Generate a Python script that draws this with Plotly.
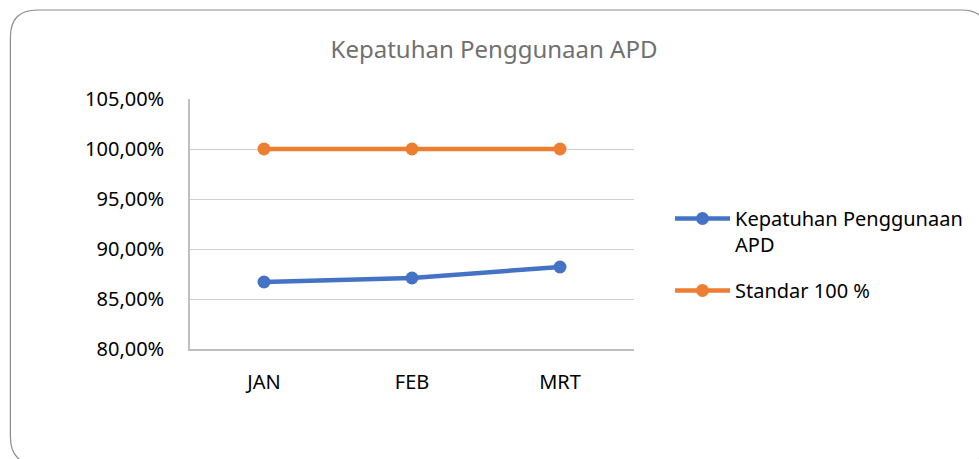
import plotly.graph_objects as go

months = ["JAN", "FEB", "MRT"]
kepatuhan = [0.867, 0.871, 0.882]
standar = [1.00, 1.00, 1.00]
y_ticks = [0.80, 0.85, 0.90, 0.95, 1.00, 1.05]
y_tick_labels = ["80,00%", "85,00%", "90,00%", "95,00%", "100,00%", "105,00%"]

W, H = 979, 459
L, R, T, B = 190, 344, 99, 110
pw, ph = W - L - R, H - T - B


def px(x):
    return (x - L) / pw


def py(y):
    return (H - B - y) / ph


fig = go.Figure()
fig.add_trace(go.Scatter(
    x=months, y=kepatuhan, mode="lines+markers",
    name="Kepatuhan Penggunaan<br>APD", legendgroup="a",
    line=dict(color="#4472C4", width=4.5),
    marker=dict(color="#4472C4", size=13),
))
fig.add_trace(go.Scatter(
    x=months, y=standar, mode="lines+markers",
    name="Standar 100 %", legendgroup="b",
    line=dict(color="#ED7D31", width=4.5),
    marker=dict(color="#ED7D31", size=13),
))

# rounded chart frame, runs off the right and bottom edges
x0, y0, x1, y1, r = 10, 10, 990, 464, 27
path = (
    f"M {px(x0 + r)} {py(y0)} L {px(x1 - r)} {py(y0)} "
    f"Q {px(x1)} {py(y0)} {px(x1)} {py(y0 + r)} L {px(x1)} {py(y1 - r)} "
    f"Q {px(x1)} {py(y1)} {px(x1 - r)} {py(y1)} L {px(x0 + r)} {py(y1)} "
    f"Q {px(x0)} {py(y1)} {px(x0)} {py(y1 - r)} L {px(x0)} {py(y0 + r)} "
    f"Q {px(x0)} {py(y0)} {px(x0 + r)} {py(y0)} Z"
)
fig.add_shape(type="path", path=path, xref="paper", yref="paper",
              line=dict(color="#8c8c8c", width=1.2), layer="below")

fig.update_layout(
    width=W, height=H,
    margin=dict(l=L, r=R, t=T, b=B),
    paper_bgcolor="white", plot_bgcolor="white",
    font=dict(family="Noto Sans", size=20, color="#000000"),
    title=dict(text="Kepatuhan Penggunaan APD", x=494 / W, xanchor="center",
               y=1 - 50 / H, yanchor="middle",
               font=dict(size=24, color="#707070")),
    xaxis=dict(range=[-0.5, 2.5], showgrid=False, showline=True,
               linecolor="#bfbfbf", linewidth=1.5, ticks="outside",
               ticklen=14, tickcolor="rgba(0,0,0,0)"),
    yaxis=dict(range=[0.80, 1.05], tickvals=y_ticks, ticktext=y_tick_labels,
               showgrid=True, gridcolor="#d0d0d0", gridwidth=1,
               showline=True, linecolor="#bfbfbf", linewidth=1.5,
               ticks="outside", ticklen=20, tickcolor="rgba(0,0,0,0)",
               zeroline=False),
    legend=dict(x=px(670), xanchor="left", y=py(199), yanchor="top",
                font=dict(size=20), itemwidth=55, tracegroupgap=17,
                valign="top", bgcolor="rgba(0,0,0,0)"),
)

fig.write_html("out.html", config={"displayModeBar": False},
               post_script="document.body.style.margin='0';")
